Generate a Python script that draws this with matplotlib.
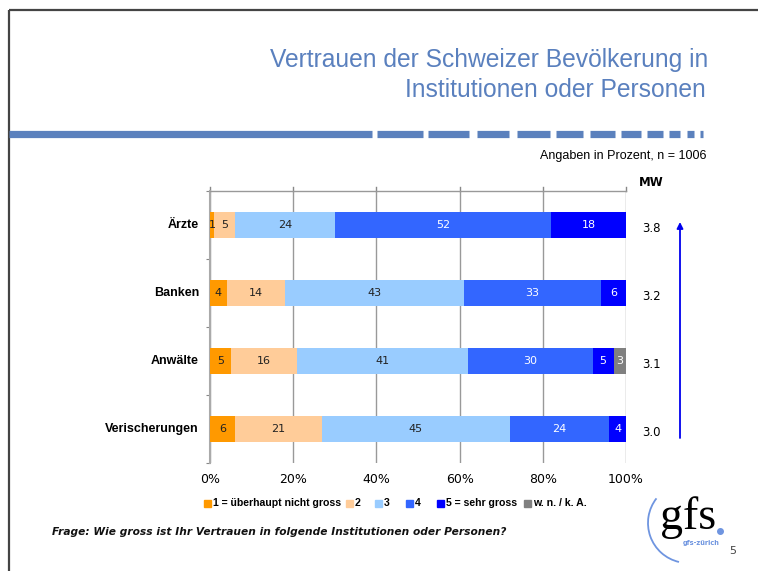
import matplotlib
matplotlib.use("Agg")
import matplotlib.pyplot as plt
from matplotlib.patches import Arc
import numpy as np

categories = ["Ärzte", "Banken", "Anwälte", "Verischerungen"]
series_names = ["1 = überhaupt nicht gross", "2", "3", "4", "5 = sehr gross", "w. n. / k. A."]
s1 = [1, 4, 5, 6]
s2 = [5, 14, 16, 21]
s3 = [24, 43, 41, 45]
s4 = [52, 33, 30, 24]
s5 = [18, 6, 5, 4]
s6 = [0, 0, 3, 0]
mw = ["3.8", "3.2", "3.1", "3.0"]
xticks = [0, 20, 40, 60, 80, 100]
xticklabels = ["0%", "20%", "40%", "60%", "80%", "100%"]

colors = ["#FF9900", "#FFCC99", "#99CCFF", "#3366FF", "#0000FF", "#808080"]
txtcol = ["#222222", "#222222", "#222222", "white", "white", "white"]

W, H = 758, 571
fig = plt.figure(figsize=(W / 100, H / 100), dpi=100)
fig.patch.set_facecolor("white")

NARROW = ["Liberation Sans", "DejaVu Sans"]
SANS = ["DejaVu Sans"]

# overlay in pixel coordinates
ov = fig.add_axes([0, 0, 1, 1], zorder=0)
ov.set_xlim(0, W)
ov.set_ylim(H, 0)
ov.axis("off")

# slide frame
ov.plot([9, W], [10, 10], color="#444444", lw=1.6, solid_capstyle="butt")
ov.plot([9, 9], [10, H], color="#444444", lw=1.6, solid_capstyle="butt")

# title
tcol = "#5A80BE"
ov.text(708, 60, "Vertrauen der Schweizer Bevölkerung in", ha="right", va="center",
        fontsize=17.7, color=tcol, family=NARROW)
ov.text(706, 90, "Institutionen oder Personen", ha="right", va="center",
        fontsize=17.7, color=tcol, family=NARROW)

# dashed rule
segs = [(9, 372), (377, 423), (428, 469), (477, 509), (517, 550), (556, 583),
        (590, 615), (621, 641), (647, 663), (669, 680), (687, 694), (700, 703)]
for a, b in segs:
    ov.plot([a, b], [133.5, 133.5], color="#5B81BD", lw=5.2, solid_capstyle="butt")

ov.text(706, 156, "Angaben in Prozent, n = 1006", ha="right", va="center",
        fontsize=9, color="black", family=NARROW)
ov.text(651, 182, "MW", ha="center", va="center", fontsize=8.5, color="black",
        family=SANS, fontweight="bold")

# bar axes
L, R, T, B = 210, 626, 191, 463
ax = fig.add_axes([L / W, (H - B) / H, (R - L) / W, (B - T) / H], zorder=2)
ax.set_facecolor("none")
y = np.arange(len(categories))
left = np.zeros(len(categories))
allseries = [s1, s2, s3, s4, s5, s6]
for vals, c, tc in zip(allseries, colors, txtcol):
    vals = np.array(vals, dtype=float)
    ax.barh(y, vals, left=left, height=0.39, color=c, edgecolor="none", zorder=3)
    for yi, (v, l0) in enumerate(zip(vals, left)):
        if v > 0:
            ax.text(l0 + v / 2, yi, f"{int(v)}", ha="center", va="center",
                    fontsize=8, color=tc, zorder=4, family=SANS)
    left += vals

ax.set_xlim(0, 100)
ax.set_ylim(len(categories) - 0.5, -0.5)
ax.set_xticks(xticks)
ax.set_xticklabels(xticklabels, fontsize=9, family=SANS)
ax.tick_params(axis="x", length=0, pad=7)
ax.grid(axis="x", color="#999999", lw=1.0, zorder=1)
ax.set_yticks(np.arange(len(categories) + 1) - 0.5, minor=False)
ax.set_yticklabels([])
ax.tick_params(axis="y", length=3, color="#888888", direction="out")
for sp in ["right", "bottom"]:
    ax.spines[sp].set_visible(False)
ax.spines["left"].set_color("#AAAAAA")
ax.spines["left"].set_linewidth(1.5)
ax.spines["top"].set_color("#999999")
ax.spines["top"].set_linewidth(1.0)
# small ticks above top spine
for xt in xticks:
    ov.plot([L + (R - L) * xt / 100] * 2, [187, 191], color="#888888", lw=1.0)

# category labels
for yi, cat in enumerate(categories):
    yc = T + (yi + 0.5) * (B - T) / len(categories)
    ov.text(199, yc, cat, ha="right", va="center", fontsize=9, fontweight="bold",
            family=NARROW)
    ov.text(651, yc + 3, mw[yi], ha="center", va="center", fontsize=8.5, family=SANS)

# arrow
ov.annotate("", xy=(680, 222), xytext=(680, 438),
            arrowprops=dict(arrowstyle="-|>", color="#0000EE", lw=1.3,
                            mutation_scale=9, shrinkA=0, shrinkB=0))

# legend
leg_x = [207, 349, 378, 409, 440, 527]
for xx, c, name in zip(leg_x, colors, series_names):
    ov.add_patch(plt.Rectangle((xx - 3.5, 499.5), 7, 7, color=c))
    ov.text(xx + 6, 503.5, name, ha="left", va="center", fontsize=7.6,
            family=NARROW, fontweight="bold")

ov.text(52, 532, "Frage: Wie gross ist Ihr Vertrauen in folgende Institutionen oder Personen?",
        ha="left", va="center", fontsize=7.7, style="italic", fontweight="bold", family=SANS,
        color="#111111")

# logo
ov.add_patch(Arc((688, 523), 80, 80, theta1=103, theta2=218, color="#6F95E0", lw=1.3))
ov.text(688, 529, "gfs", ha="center", va="baseline", fontsize=33,
        family=["Liberation Serif", "DejaVu Serif"], color="black")
ov.plot([720], [531], "o", color="#6F95E0", ms=4)
ov.text(701, 543, "gfs-zürich", ha="center", va="center", fontsize=4.8,
        color="#6F95E0", fontweight="bold", family=SANS)
ov.text(733, 551, "5", ha="center", va="center", fontsize=8, color="#444444", family=SANS)

fig.savefig("out.png", dpi=100, facecolor="white")
